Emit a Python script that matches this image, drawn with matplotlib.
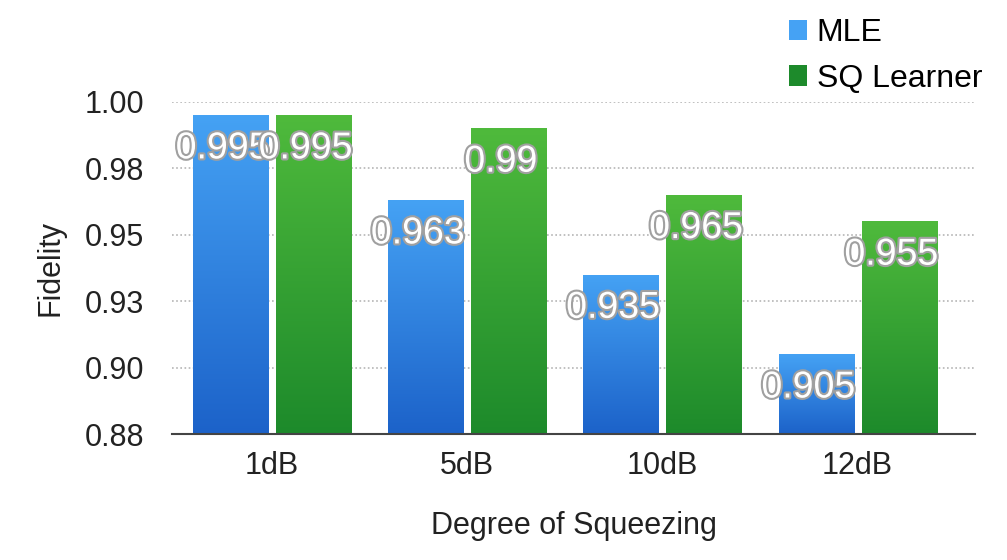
import numpy as np
import matplotlib.pyplot as plt
import matplotlib.patheffects as pe
from matplotlib.colors import LinearSegmentedColormap
from matplotlib.patches import Patch

plt.rcParams['font.family'] = ['Liberation Sans', 'DejaVu Sans']

# data
categories = ["1dB", "5dB", "10dB", "12dB"]
mle = [0.995, 0.963, 0.935, 0.905]
sq_learner = [0.995, 0.99, 0.965, 0.955]
series_names = ["MLE", "SQ Learner"]
yticks = [0.875, 0.9, 0.925, 0.95, 0.975, 1.0]
ytick_labels = ["0.88", "0.90", "0.93", "0.95", "0.98", "1.00"]

# gradient colours (top, bottom)
blue_grad = ["#45a2f4", "#1c62c9"]
green_grad = ["#4fba3c", "#1d8a2b"]

fig = plt.figure(figsize=(10.07, 5.6), dpi=100)
ax = fig.add_axes([0.171, 0.225, 0.797, 0.593])

x = np.arange(len(categories))
w = 0.385
gap = 0.04
ymin, ymax = 0.875, 1.0

def gradient_bars(xs, vals, grad):
    cmap = LinearSegmentedColormap.from_list("g", [grad[1], grad[0]])
    bars = ax.bar(xs, np.array(vals) - ymin, bottom=ymin, width=w,
                  color=grad[1], zorder=2, linewidth=0)
    img = np.linspace(0, 1, 256).reshape(-1, 1)
    for b in bars:
        x0, y0 = b.get_x(), b.get_y()
        im = ax.imshow(img, cmap=cmap, origin="lower", aspect="auto",
                       extent=[x0, x0 + b.get_width(), y0, y0 + b.get_height()],
                       zorder=2.5)
        im.set_clip_path(b)
    return bars

gradient_bars(x - w / 2 - gap / 2, mle, blue_grad)
gradient_bars(x + w / 2 + gap / 2, sq_learner, green_grad)

# value labels: white text with a grey outline
outline = [pe.withStroke(linewidth=3, foreground="#a0a0a0")]
for xs, vals in [(x - w / 2 - gap / 2, mle), (x + w / 2 + gap / 2, sq_learner)]:
    for xi, v in zip(xs, vals):
        ax.text(xi - 0.04, v - 0.0125, f"{v:g}", ha="center", va="center",
                fontsize=27, color="white", path_effects=outline, zorder=4)

ax.set_xlim(-0.51, 3.6)
ax.set_ylim(ymin, ymax)
ax.set_yticks(yticks)
ax.set_yticklabels(ytick_labels)
ax.set_xticks(x)
ax.set_xticklabels(categories)
ax.tick_params(axis="both", length=0, labelsize=22, colors="#222222")
ax.tick_params(axis="y", pad=20)
ax.tick_params(axis="x", pad=12)

ax.grid(axis="y", linestyle=(0, (1, 1.5)), color="#b5b5b5", linewidth=1.2, zorder=0)
ax.set_axisbelow(True)
for s in ["top", "right", "left"]:
    ax.spines[s].set_visible(False)
ax.spines["bottom"].set_color("#444444")
ax.spines["bottom"].set_linewidth(1.5)
ax.spines["bottom"].set_zorder(5)

ax.set_ylabel("Fidelity", fontsize=22, color="#222222", labelpad=14)
ax.set_xlabel("Degree of Squeezing", fontsize=22, color="#222222", labelpad=22)

handles = [Patch(facecolor=blue_grad[0]), Patch(facecolor=green_grad[1])]
fig.legend(handles, series_names, loc="upper left", bbox_to_anchor=(0.784, 0.968),
           frameon=False, fontsize=23, handlelength=0.55, handleheight=0.6,
           handletextpad=0.3, labelspacing=0.5, borderpad=0, borderaxespad=0)

fig.savefig("out.png", dpi=100)
